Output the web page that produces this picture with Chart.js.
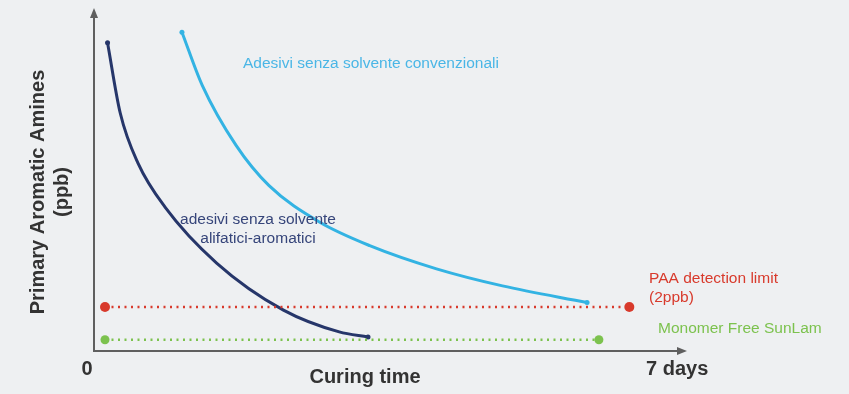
<!DOCTYPE html>
<html>
<head>
<meta charset="utf-8">
<script src="https://cdn.jsdelivr.net/npm/chart.js@4"></script>
<style>
  html, body { margin: 0; padding: 0; background: #eef0f2; }
  #wrap { width: 849px; height: 394px; position: relative; }
</style>
</head>
<body>
<div id="wrap"><canvas id="amineChart"></canvas></div>
<script>
// Data (x = curing time in days, y = relative PAA level)
const aliphaticX = [0.16, 0.31, 0.52, 0.84, 1.45, 2.24, 2.90, 3.24];
const aliphaticY = [90.4, 69.8, 55.1, 42.2, 25.8, 12.0, 5.6, 4.1];

const conventionalX = [1.04, 1.28, 1.68, 2.07, 2.66, 3.26, 4.05, 4.83, 5.83];
const conventionalY = [93.5, 77.9, 60.3, 48.5, 37.9, 30.9, 24.1, 19.1, 14.2];

const detectionLimitX = [0.13, 6.33];
const detectionLimitY = [12.9, 12.9];

const monomerFreeX = [0.13, 5.97];
const monomerFreeY = [3.3, 3.3];

const xTickLabels = ["0", "7 days"];

function toPoints(xs, ys) {
  return xs.map((x, i) => ({ x: x, y: ys[i] }));
}

// Endpoint markers only
function endsOnly(r) {
  return function (ctx) {
    const n = ctx.dataset.data.length;
    return ctx.dataIndex === 0 || ctx.dataIndex === n - 1 ? r : 0;
  };
}

// Draws arrowed axes and all the free text
const decorPlugin = {
  id: "decor",
  afterDraw(chart) {
    const ctx = chart.ctx;
    const xs = chart.scales.x;
    const ys = chart.scales.y;
    const x0 = xs.getPixelForValue(0);
    const y0 = ys.getPixelForValue(0);
    const xEnd = xs.getPixelForValue(7);
    const yEnd = ys.getPixelForValue(100);

    ctx.save();
    ctx.strokeStyle = "#5f5f5f";
    ctx.fillStyle = "#5f5f5f";
    ctx.lineWidth = 2;
    ctx.beginPath();
    ctx.moveTo(x0, yEnd + 4);
    ctx.lineTo(x0, y0);
    ctx.lineTo(xEnd - 4, y0);
    ctx.stroke();
    // arrow heads
    ctx.beginPath();
    ctx.moveTo(x0, yEnd - 2);
    ctx.lineTo(x0 - 4, yEnd + 8);
    ctx.lineTo(x0 + 4, yEnd + 8);
    ctx.closePath();
    ctx.fill();
    ctx.beginPath();
    ctx.moveTo(xEnd + 1, y0);
    ctx.lineTo(xEnd - 9, y0 - 4);
    ctx.lineTo(xEnd - 9, y0 + 4);
    ctx.closePath();
    ctx.fill();

    // tick labels + axis titles
    ctx.fillStyle = "#333333";
    ctx.font = "bold 20px 'Liberation Sans', Arial, sans-serif";
    ctx.textBaseline = "middle";
    ctx.textAlign = "center";
    ctx.fillText(xTickLabels[0], x0 - 7, 369);
    ctx.textAlign = "left";
    ctx.fillText(xTickLabels[1], xEnd - 40, 369);
    ctx.textAlign = "center";
    ctx.fillText("Curing time", 365, 377);

    ctx.save();
    ctx.translate(38, 192);
    ctx.rotate(-Math.PI / 2);
    ctx.fillText("Primary Aromatic Amines", 0, 0);
    ctx.fillText("(ppb)", 0, 24);
    ctx.restore();

    // series annotations
    ctx.font = "15.5px 'Liberation Sans', Arial, sans-serif";
    ctx.textAlign = "left";
    ctx.fillStyle = "#4ab6e6";
    ctx.fillText("Adesivi senza solvente convenzionali", 243, 64);

    ctx.textAlign = "center";
    ctx.fillStyle = "#36457a";
    ctx.fillText("adesivi senza solvente", 258, 220);
    ctx.fillText("alifatici-aromatici", 258, 239);

    ctx.textAlign = "left";
    ctx.fillStyle = "#d83a2c";
    ctx.fillText("PAA detection limit", 649, 279);
    ctx.fillText("(2ppb)", 649, 298);

    ctx.fillStyle = "#7cc24e";
    ctx.fillText("Monomer Free SunLam", 658, 329);
    ctx.restore();
  }
};

const bgPlugin = {
  id: "bg",
  beforeDraw(chart) {
    const ctx = chart.ctx;
    ctx.save();
    ctx.fillStyle = "#eef0f2";
    ctx.fillRect(0, 0, chart.width, chart.height);
    ctx.restore();
  }
};

new Chart(document.getElementById("amineChart"), {
  type: "line",
  data: {
    datasets: [
      {
        label: "PAA detection limit (2ppb)",
        data: toPoints(detectionLimitX, detectionLimitY),
        borderColor: "#d83a2c",
        backgroundColor: "#d83a2c",
        borderWidth: 2.5,
        borderDash: [2, 4.5],
        pointRadius: endsOnly(5),
        pointBorderWidth: 0,
        tension: 0
      },
      {
        label: "Monomer Free SunLam",
        data: toPoints(monomerFreeX, monomerFreeY),
        borderColor: "#7cc24e",
        backgroundColor: "#7cc24e",
        borderWidth: 2.5,
        borderDash: [2, 4.5],
        pointRadius: endsOnly(4.5),
        pointBorderWidth: 0,
        tension: 0
      },
      {
        label: "Adesivi senza solvente convenzionali",
        data: toPoints(conventionalX, conventionalY),
        borderColor: "#33b3e3",
        backgroundColor: "#33b3e3",
        borderWidth: 3,
        pointRadius: endsOnly(2.5),
        pointBorderWidth: 0,
        cubicInterpolationMode: "monotone"
      },
      {
        label: "adesivi senza solvente alifatici-aromatici",
        data: toPoints(aliphaticX, aliphaticY),
        borderColor: "#26366a",
        backgroundColor: "#26366a",
        borderWidth: 3,
        pointRadius: endsOnly(2.5),
        pointBorderWidth: 0,
        cubicInterpolationMode: "monotone"
      }
    ]
  },
  options: {
    responsive: true,
    maintainAspectRatio: false,
    animation: false,
    layout: { padding: { left: 94, right: 163, top: 10, bottom: 43 } },
    plugins: {
      legend: { display: false },
      tooltip: { enabled: false }
    },
    scales: {
      x: { type: "linear", min: 0, max: 7, display: false },
      y: { type: "linear", min: 0, max: 100, display: false }
    }
  },
  plugins: [bgPlugin, decorPlugin]
});
</script>
</body>
</html>
